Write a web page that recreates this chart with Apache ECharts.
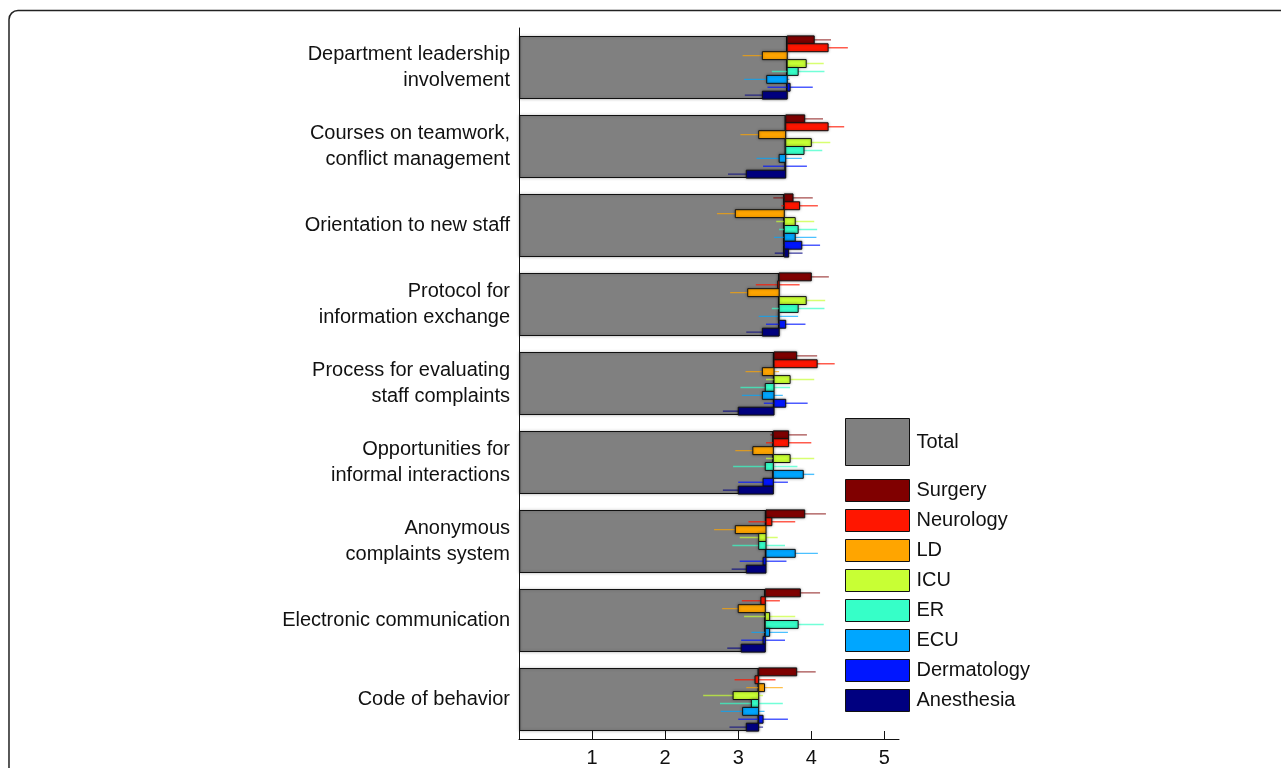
<!DOCTYPE html>
<html>
<head>
<meta charset="utf-8">
<title>Teamwork measures by department</title>
<script src="https://cdn.jsdelivr.net/npm/echarts@6/dist/echarts.min.js"></script>
<style>
  html, body { margin: 0; padding: 0; background: #fff; }
  #chart { width: 1281px; height: 768px; }
</style>
</head>
<body>
<div id="chart"></div>
<script>
// Measures, top to bottom
const categories = [
  'Department leadership\ninvolvement',
  'Courses on teamwork,\nconflict management',
  'Orientation to new staff',
  'Protocol for\ninformation exchange',
  'Process for evaluating\nstaff complaints',
  'Opportunities for\ninformal interactions',
  'Anonymous\ncomplaints system',
  'Electronic communication',
  'Code of behavior'
];

const xTicks = [1, 2, 3, 4, 5];

// Mean score over all departments
const total = [3.67, 3.65, 3.63, 3.56, 3.49, 3.48, 3.38, 3.37, 3.28];

// Department means and error half-widths
const surgery       = [4.04, 3.91, 3.75, 4.00, 3.80, 3.69, 3.91, 3.85, 3.80];
const surgeryErr    = [0.23, 0.25, 0.27, 0.24, 0.28, 0.25, 0.29, 0.27, 0.26];
const neurology     = [4.23, 4.23, 3.84, 3.54, 4.08, 3.69, 3.46, 3.31, 3.23];
const neurologyErr  = [0.27, 0.22, 0.25, 0.30, 0.24, 0.31, 0.32, 0.26, 0.28];
const ld            = [3.33, 3.28, 2.96, 3.13, 3.33, 3.20, 2.96, 3.00, 3.36];
const ldErr         = [0.27, 0.25, 0.25, 0.24, 0.23, 0.24, 0.29, 0.22, 0.25];
const icu           = [3.93, 4.00, 3.78, 3.93, 3.71, 3.71, 3.28, 3.43, 2.93];
const icuErr        = [0.24, 0.26, 0.26, 0.26, 0.33, 0.33, 0.26, 0.35, 0.41];
const er            = [3.82, 3.90, 3.82, 3.82, 3.37, 3.37, 3.28, 3.82, 3.18];
const erErr         = [0.36, 0.25, 0.26, 0.36, 0.34, 0.44, 0.36, 0.35, 0.43];
const ecu           = [3.39, 3.56, 3.78, 3.55, 3.33, 3.89, 3.78, 3.43, 3.06];
const ecuErr        = [0.31, 0.31, 0.29, 0.27, 0.28, 0.15, 0.31, 0.25, 0.30];
const dermatology   = [3.71, 3.64, 3.87, 3.65, 3.65, 3.34, 3.34, 3.34, 3.34];
const dermatologyErr= [0.31, 0.30, 0.25, 0.27, 0.30, 0.34, 0.32, 0.30, 0.34];
const anesthesia    = [3.33, 3.11, 3.69, 3.33, 3.00, 3.00, 3.11, 3.04, 3.11];
const anesthesiaErr = [0.24, 0.25, 0.19, 0.22, 0.21, 0.21, 0.20, 0.19, 0.23];

const departments = ['Surgery', 'Neurology', 'LD', 'ICU', 'ER', 'ECU', 'Dermatology', 'Anesthesia'];
const deptValues = [surgery, neurology, ld, icu, er, ecu, dermatology, anesthesia];
const deptErrors = [surgeryErr, neurologyErr, ldErr, icuErr, erErr, ecuErr, dermatologyErr, anesthesiaErr];
const deptColors = ['#800000', '#ff1600', '#ffa500', '#c8ff34', '#36ffc8', '#00a6ff', '#0016ff', '#000080'];

const FONT = '"Liberation Sans", Arial, Helvetica, sans-serif';
const BAR_FRACTION = 0.8;

// Each department bar floats from the total score to the department score,
// in its own slot of the total bar; the error bar sits behind it.
function makeRenderer(d) {
  return function (params, api) {
    const cat = api.value(0);
    const val = api.value(1);
    const err = api.value(2);
    const tot = api.value(3);
    const center = api.coord([0, cat])[1];
    const band = api.size([0, 1])[1] * BAR_FRACTION;
    const slot = band / departments.length;
    const top = center - band / 2 + d * slot;
    const midY = top + slot / 2;
    const xTot = api.coord([tot, cat])[0];
    const xVal = api.coord([val, cat])[0];
    const xLo = api.coord([val - err, cat])[0];
    const xHi = api.coord([val + err, cat])[0];
    const color = deptColors[d];
    return {
      type: 'group',
      children: [
        {
          type: 'line',
          shape: { x1: xLo, y1: midY, x2: xHi, y2: midY },
          style: { stroke: color, lineWidth: 1.4, opacity: 0.7 }
        },
        {
          type: 'rect',
          shape: { x: Math.min(xTot, xVal), y: top, width: Math.abs(xVal - xTot), height: slot },
          style: {
            fill: color, stroke: '#111', lineWidth: 1,
            shadowBlur: 3, shadowColor: 'rgba(0,0,0,0.35)'
          }
        }
      ]
    };
  };
}

const deptSeries = departments.map((name, d) => ({
  name: name,
  type: 'custom',
  z: 3,
  itemStyle: { color: deptColors[d] },
  renderItem: makeRenderer(d),
  encode: { x: [1], y: 0 },
  data: deptValues[d].map((v, i) => [i, v, deptErrors[d][i], total[i]])
}));

const chart = echarts.init(document.getElementById('chart'), null, { renderer: 'canvas' });

chart.setOption({
  animation: false,
  backgroundColor: '#fff',
  textStyle: { fontFamily: FONT },
  graphic: [{
    type: 'rect',
    silent: true,
    shape: { x: 9, y: 10.5, width: 1320, height: 820, r: 9 },
    style: { fill: 'none', stroke: '#222', lineWidth: 1.5 }
  }],
  grid: { left: 519, top: 28, width: 380, height: 711, containLabel: false },
  xAxis: {
    type: 'value',
    min: 0,
    max: 5.2,
    interval: 1,
    axisLine: { show: true, lineStyle: { color: '#111', width: 1 } },
    axisTick: {
      show: true, inside: true, length: 8, lineStyle: { color: '#111' },
      customValues: [0].concat(xTicks)
    },
    splitLine: { show: false },
    axisLabel: {
      fontSize: 20, color: '#111', fontFamily: FONT, margin: 9,
      customValues: xTicks,
      formatter: v => String(v)
    }
  },
  yAxis: {
    type: 'category',
    inverse: true,
    data: categories,
    axisLine: { show: true, lineStyle: { color: '#111', width: 1 } },
    axisTick: { show: false },
    axisLabel: {
      fontSize: 20, color: '#111', fontFamily: FONT, margin: 9,
      lineHeight: 26, align: 'right'
    }
  },
  legend: [
    {
      data: ['Total'],
      left: 845, top: 418,
      orient: 'vertical',
      icon: 'rect',
      itemWidth: 64, itemHeight: 47,
      itemStyle: { borderColor: '#111', borderWidth: 1 },
      textStyle: { fontSize: 20, color: '#111', fontFamily: FONT, padding: [0, 0, 0, 2] },
      padding: 0
    },
    {
      data: departments,
      left: 845, top: 479,
      orient: 'vertical',
      icon: 'rect',
      itemWidth: 64, itemHeight: 22,
      itemGap: 7,
      itemStyle: { borderColor: '#111', borderWidth: 1 },
      textStyle: { fontSize: 20, color: '#111', fontFamily: FONT, lineHeight: 20, padding: [0, 0, 0, 2] },
      padding: 0
    }
  ],
  series: [
    {
      name: 'Total',
      type: 'bar',
      z: 2,
      barCategoryGap: '20%',
      itemStyle: {
        color: '#808080', borderColor: '#111', borderWidth: 1.2,
        shadowBlur: 3, shadowColor: 'rgba(0,0,0,0.3)'
      },
      data: total
    }
  ].concat(deptSeries)
});
</script>
</body>
</html>
